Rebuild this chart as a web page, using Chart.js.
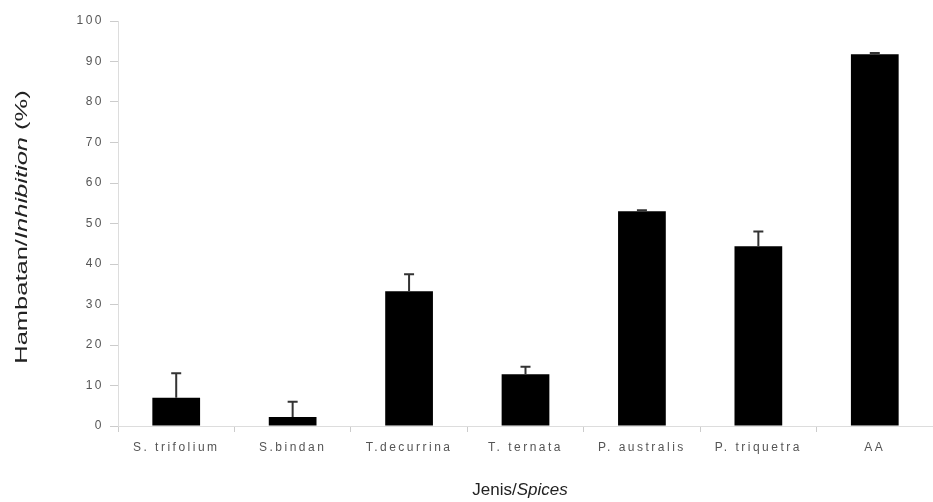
<!DOCTYPE html>
<html>
<head>
<meta charset="utf-8">
<script src="https://cdn.jsdelivr.net/npm/chart.js@4/dist/chart.umd.min.js"></script>
<style>
  html, body { margin: 0; padding: 0; background: #fff; }
  #wrap { width: 933px; height: 502px; position: relative; }
</style>
</head>
<body>
<div id="wrap"><canvas id="chart"></canvas></div>
<script>
const species = ['S. trifolium', 'S.bindan', 'T.decurrina', 'T. ternata', 'P. australis', 'P. triquetra', 'AA'];
const inhibition = [7, 2.2, 33.3, 12.8, 53, 44.4, 91.8];
const errUpper = [6, 3.8, 4.2, 1.8, 0.3, 3.6, 0.3];
const yTicks = [0, 10, 20, 30, 40, 50, 60, 70, 80, 90, 100];

// widen the tick lettering while the scales are drawn
const tickSpacing = {
  id: 'tickSpacing',
  beforeDraw(chart) { chart.ctx.letterSpacing = '2.5px'; },
  beforeDatasetsDraw(chart) { chart.ctx.letterSpacing = '0px'; }
};

// upper error whiskers, placed with the chart's own scales
const errorBars = {
  id: 'errorBars',
  afterDatasetsDraw(chart) {
    const { ctx, scales: { y } } = chart;
    const meta = chart.getDatasetMeta(0);
    ctx.save();
    ctx.strokeStyle = '#333';
    ctx.lineWidth = 2;
    meta.data.forEach((bar, i) => {
      const top = y.getPixelForValue(inhibition[i] + errUpper[i]);
      ctx.beginPath();
      ctx.moveTo(bar.x, bar.y);
      ctx.lineTo(bar.x, top);
      ctx.moveTo(bar.x - 5, top);
      ctx.lineTo(bar.x + 5, top);
      ctx.stroke();
    });
    ctx.restore();
  }
};

// axis titles with the italic English part
function mixedText(ctx, parts, x, y) {
  let total = 0;
  parts.forEach(p => { ctx.font = p.font; total += ctx.measureText(p.text).width; });
  let cx = x - total / 2;
  parts.forEach(p => {
    ctx.font = p.font;
    ctx.fillText(p.text, cx, y);
    cx += ctx.measureText(p.text).width;
  });
}

const axisTitles = {
  id: 'axisTitles',
  afterDraw(chart) {
    const { ctx } = chart;
    const reg = '17px "Liberation Sans", Arial, sans-serif';
    const ita = 'italic 17px "Liberation Sans", Arial, sans-serif';
    ctx.save();
    ctx.letterSpacing = '0px';
    ctx.fillStyle = '#222';
    ctx.textBaseline = 'middle';
    ctx.textAlign = 'left';
    mixedText(ctx, [{ text: 'Jenis/', font: reg }, { text: 'Spices', font: ita }], 520, 490);
    ctx.translate(22, 227);
    ctx.rotate(-Math.PI / 2);
    ctx.scale(1.5, 1);
    mixedText(ctx, [{ text: 'Hambatan/', font: reg }, { text: 'Inhibition', font: ita }, { text: ' (%)', font: reg }], 0, 0);
    ctx.restore();
  }
};

const tickFont = { size: 12, family: '"Liberation Sans", Arial' };

new Chart(document.getElementById('chart'), {
  type: 'bar',
  data: {
    labels: species,
    datasets: [{
      data: inhibition,
      backgroundColor: '#000',
      borderWidth: 0,
      categoryPercentage: 1,
      barPercentage: 0.41
    }]
  },
  options: {
    responsive: true,
    maintainAspectRatio: false,
    animation: false,
    layout: { padding: { top: 21, right: 0, left: 0, bottom: 0 } },
    plugins: {
      legend: { display: false },
      tooltip: { enabled: false }
    },
    scales: {
      x: {
        offset: true,
        grid: { display: true, drawOnChartArea: false, offset: true, tickLength: 6, color: '#ccc' },
        border: { color: '#ddd' },
        ticks: { color: '#555', font: tickFont, padding: 8, maxRotation: 0, autoSkip: false },
        afterFit(scale) { scale.height = 76; }
      },
      y: {
        min: 0,
        max: 100,
        afterBuildTicks(scale) { scale.ticks = yTicks.map(v => ({ value: v })); },
        grid: { display: true, drawOnChartArea: false, tickLength: 8, color: '#ccc' },
        border: { color: '#ddd' },
        ticks: { color: '#555', font: tickFont, padding: 6 },
        afterFit(scale) { scale.width = 118; }
      }
    }
  },
  plugins: [tickSpacing, errorBars, axisTitles]
});
</script>
</body>
</html>
